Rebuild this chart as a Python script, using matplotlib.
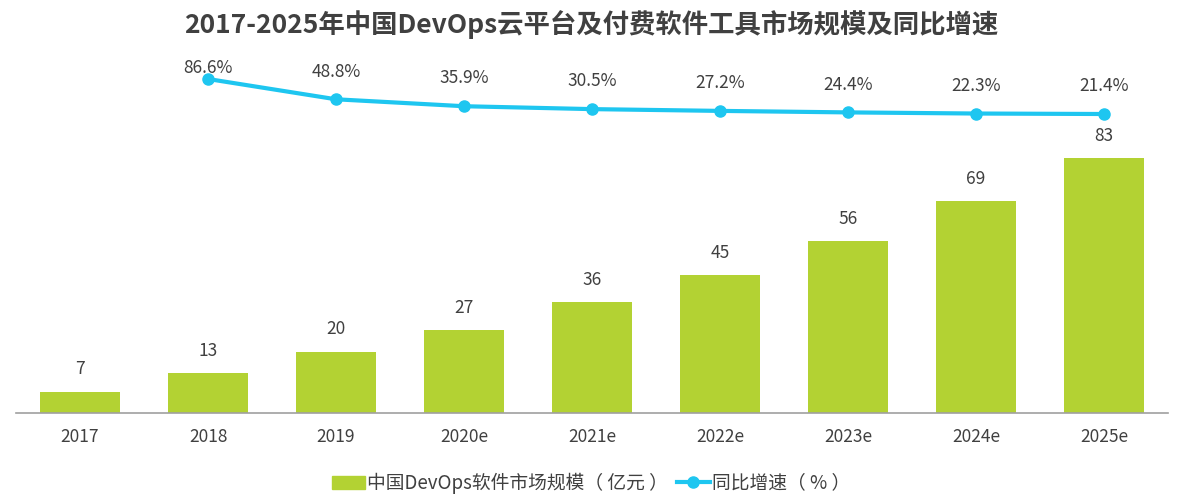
import matplotlib
matplotlib.use("Agg")
import matplotlib.pyplot as plt
from matplotlib.patches import Patch
from matplotlib.lines import Line2D

plt.rcParams['font.family'] = ['Noto Sans CJK SC', 'DejaVu Sans']

years = ['2017', '2018', '2019', '2020e', '2021e', '2022e', '2023e', '2024e', '2025e']
market_size = [7, 13, 20, 27, 36, 45, 56, 69, 83]
growth_years = years[1:]
growth_rate = [86.6, 48.8, 35.9, 30.5, 27.2, 24.4, 22.3, 21.4]

bar_color = '#B3D233'
line_color = '#1EC6F0'
text_color = '#404040'

fig = plt.figure(figsize=(11.82, 4.98), dpi=100)
ax = fig.add_axes([16 / 1182, 85 / 498, 1152 / 1182, 363 / 498])

x = list(range(len(years)))
ax.bar(x, market_size, width=0.625, color=bar_color, zorder=2)
for xi, v in zip(x, market_size):
    ax.annotate(str(v), (xi, v), xytext=(0, 16), textcoords='offset points',
                ha='center', va='center', fontsize=12.5, color=text_color)

ax.set_xlim(-0.5, len(years) - 0.5)
ax.set_ylim(0, 118.2)
ax.set_xticks(x)
ax.set_xticklabels(years, fontsize=12.5, color=text_color)
ax.tick_params(axis='x', length=0, pad=11)
ax.set_yticks([])
for s in ['top', 'right', 'left']:
    ax.spines[s].set_visible(False)
ax.spines['bottom'].set_color('#A0A0A0')
ax.spines['bottom'].set_linewidth(1.2)

ax2 = ax.twinx()
gx = x[1:]
ax2.plot(gx, growth_rate, color=line_color, lw=3, marker='o', ms=8, zorder=3)
ax2.set_ylim(-535.4, 140.6)
ax2.axis('off')
for i, (xi, v) in enumerate(zip(gx, growth_rate)):
    off = 8 if i == 0 else 20
    ax2.annotate(f'{v}%', (xi, v), xytext=(0, off), textcoords='offset points',
                 ha='center', va='center', fontsize=12.5, color=text_color)

fig.suptitle('2017-2025年中国DevOps云平台及付费软件工具市场规模及同比增速',
             x=0.5, y=0.98, fontsize=19, fontweight='bold', color=text_color)

handles = [Patch(color=bar_color),
           Line2D([], [], color=line_color, lw=3, marker='o', ms=8)]
labels = ['中国DevOps软件市场规模（ 亿元 ）', '同比增速（ % ）']
fig.legend(handles, labels, loc='center', bbox_to_anchor=(0.5, 0.03), ncol=2,
           frameon=False, fontsize=13.5, labelcolor=text_color, columnspacing=0.5,
           handlelength=1.75, handletextpad=0.1)

fig.savefig('out.png', dpi=100)
